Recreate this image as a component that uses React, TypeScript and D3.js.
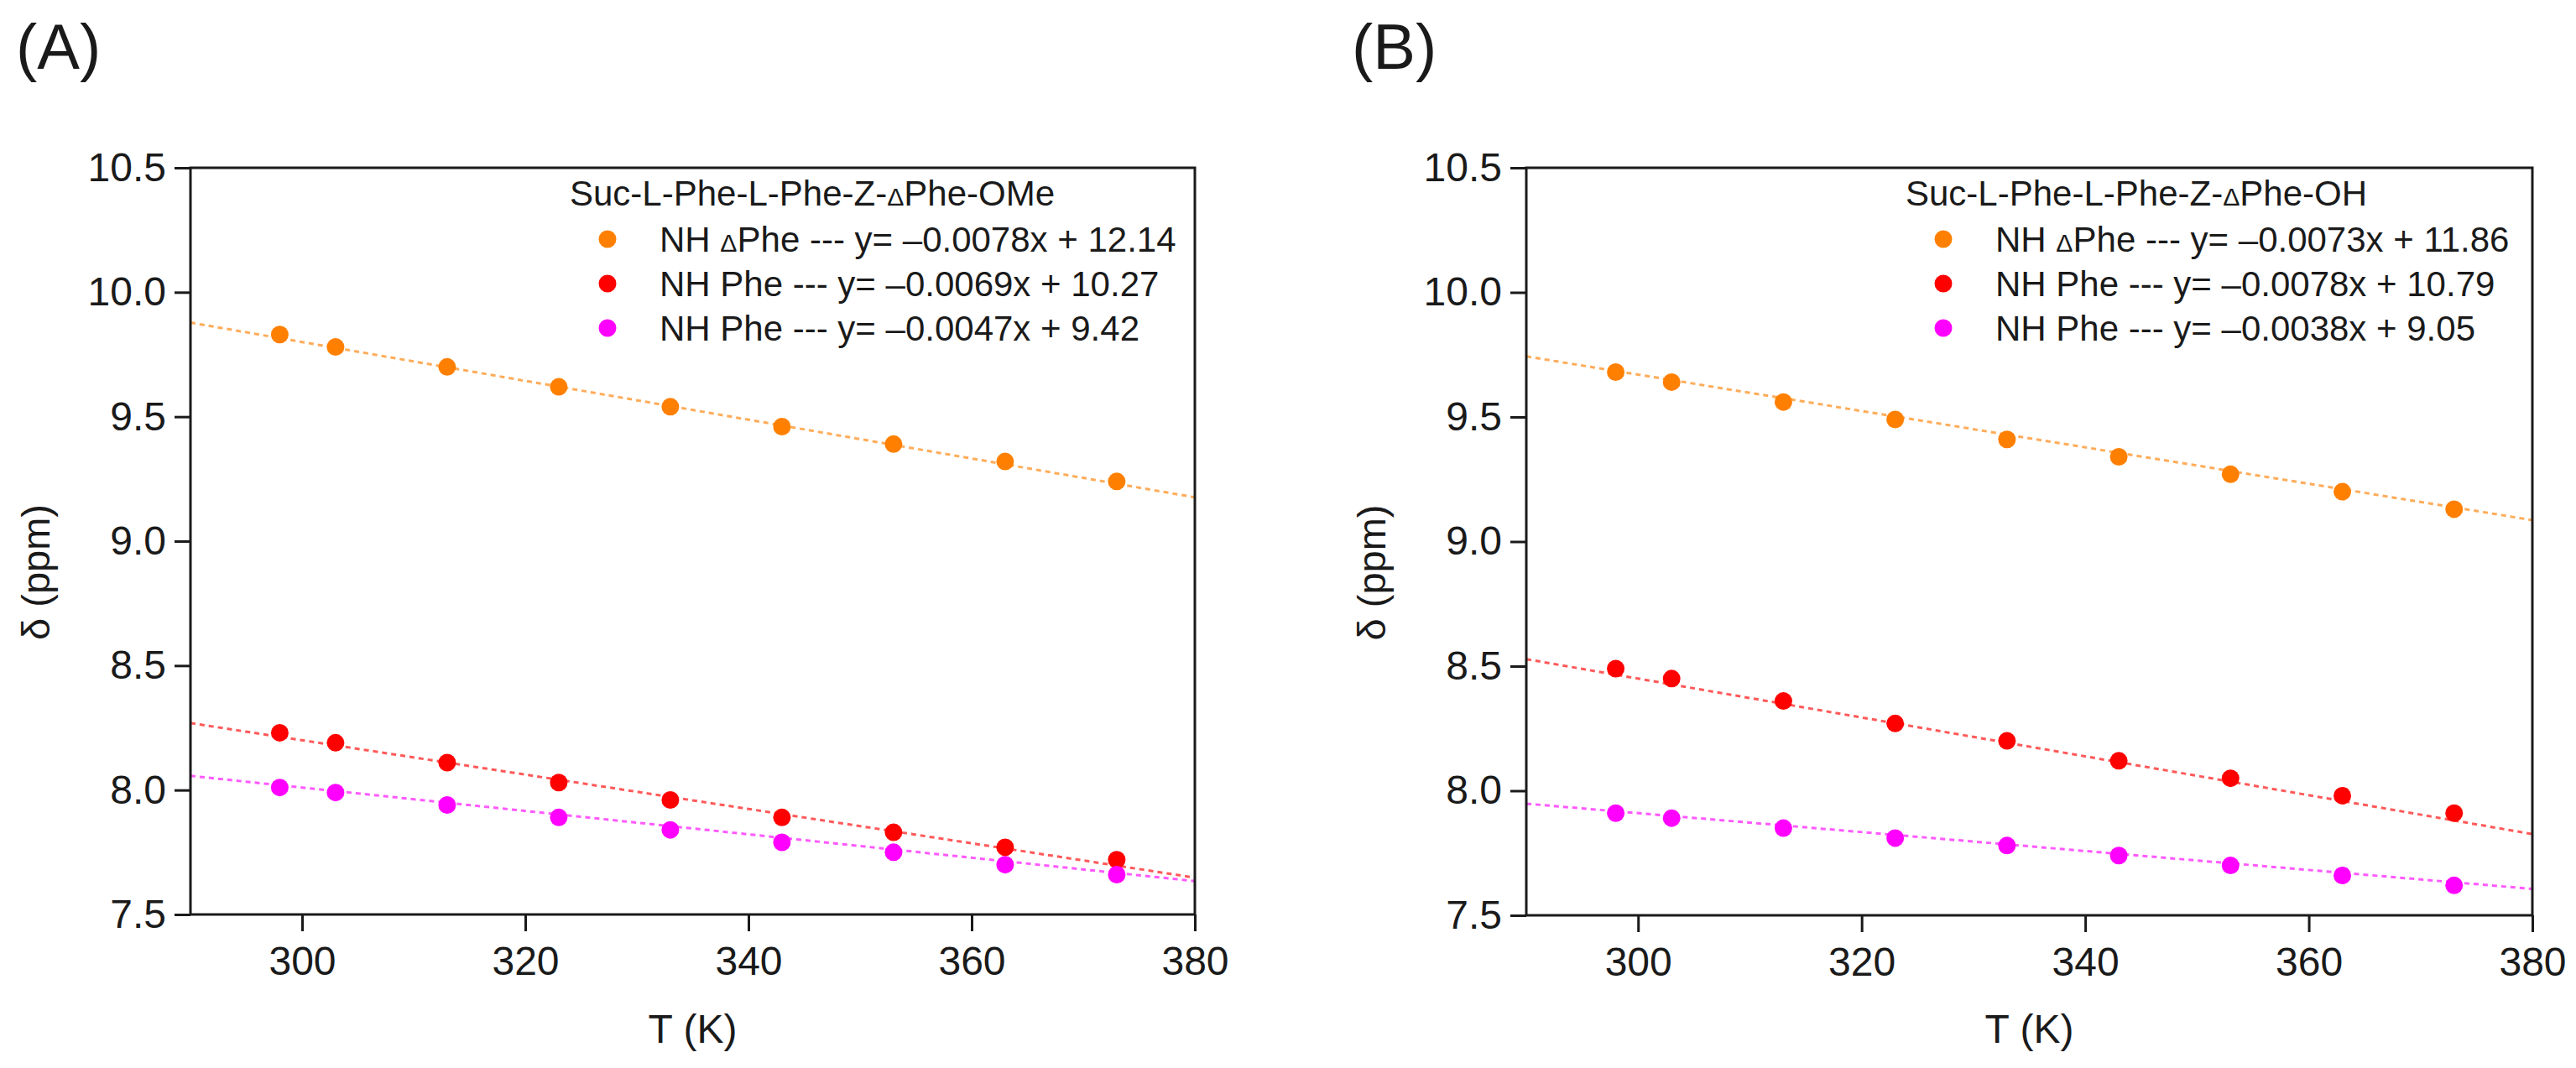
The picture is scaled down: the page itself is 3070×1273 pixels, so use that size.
import { useEffect, useRef } from 'react';
import * as d3 from 'd3';

// temperatures (K) measured in both panels
const temperatures = [298, 303, 313, 323, 333, 343, 353, 363, 373];

// (A) Suc-L-Phe-L-Phe-Z-ΔPhe-OMe
const omeDeltaPhe = [9.83, 9.78, 9.70, 9.62, 9.54, 9.46, 9.39, 9.32, 9.24];
const omePheA = [8.23, 8.19, 8.11, 8.03, 7.96, 7.89, 7.83, 7.77, 7.72];
const omePheB = [8.01, 7.99, 7.94, 7.89, 7.84, 7.79, 7.75, 7.70, 7.66];
const omeSlopes = [-0.0078, -0.0069, -0.0047];
const omeIntercepts = [12.14, 10.27, 9.42];

// (B) Suc-L-Phe-L-Phe-Z-ΔPhe-OH
const ohDeltaPhe = [9.68, 9.64, 9.56, 9.49, 9.41, 9.34, 9.27, 9.20, 9.13];
const ohPheA = [8.49, 8.45, 8.36, 8.27, 8.20, 8.12, 8.05, 7.98, 7.91];
const ohPheB = [7.91, 7.89, 7.85, 7.81, 7.78, 7.74, 7.70, 7.66, 7.62];
const ohSlopes = [-0.0073, -0.0078, -0.0038];
const ohIntercepts = [11.86, 10.79, 9.05];

const seriesNames = ['NH ΔPhe', 'NH Phe', 'NH Phe'];
const seriesColors = ['#ff8000', '#ff0000', '#ff00ff'];
const xDomain = [290, 380];
const yDomain = [7.5, 10.5];
const xTicks = [300, 320, 340, 360, 380];
const yTicks = [7.5, 8.0, 8.5, 9.0, 9.5, 10.0, 10.5];

const FONT = '"Liberation Sans", Arial, sans-serif';
const INK = '#1a1a1a';

interface PanelOpts {
    left: number;
    right: number;
    top: number;
    bottom: number;
    label: string;
    title: string;
    series: number[][];
    slopes: number[];
    intercepts: number[];
}

// writes text, shrinking every Δ a bit like the original figure
function addDeltaText(sel: d3.Selection<SVGTextElement, unknown, null, undefined>, str: string) {
    str.split(/(Δ)/).forEach(part => {
        if (!part) return;
        const t = sel.append('tspan').text(part);
        if (part === 'Δ') t.attr('font-size', '72%');
    });
}

function drawPanel(svg: d3.Selection<SVGSVGElement, unknown, null, undefined>, o: PanelOpts) {
    const x = d3.scaleLinear().domain(xDomain).range([o.left, o.right]);
    const y = d3.scaleLinear().domain(yDomain).range([o.bottom, o.top]);
    const g = svg.append('g');

    // panel letter
    g.append('text')
        .attr('x', o.left - 208)
        .attr('y', 82)
        .attr('font-size', 76)
        .attr('fill', INK)
        .text(o.label);

    // fit lines
    o.slopes.forEach((m, i) => {
        const b = o.intercepts[i];
        const line = d3.line<number>().x(d => x(d)).y(d => y(m * d + b));
        g.append('path')
            .attr('d', line(xDomain)!)
            .attr('fill', 'none')
            .attr('stroke', seriesColors[i])
            .attr('stroke-opacity', 0.65)
            .attr('stroke-width', 3)
            .attr('stroke-dasharray', '6,5');
    });

    // points
    o.series.forEach((vals, i) => {
        g.append('g')
            .selectAll('circle')
            .data(vals)
            .join('circle')
            .attr('cx', (_, j) => x(temperatures[j]))
            .attr('cy', d => y(d))
            .attr('r', 10.5)
            .attr('fill', seriesColors[i]);
    });

    // frame
    g.append('rect')
        .attr('x', o.left)
        .attr('y', o.top)
        .attr('width', o.right - o.left)
        .attr('height', o.bottom - o.top)
        .attr('fill', 'none')
        .attr('stroke', INK)
        .attr('stroke-width', 3);

    // axes
    const yAxis = g.append('g')
        .attr('transform', `translate(${o.left},0)`)
        .call(d3.axisLeft(y).tickValues(yTicks).tickFormat(d3.format('.1f')).tickSize(19).tickPadding(10));
    const xAxis = g.append('g')
        .attr('transform', `translate(0,${o.bottom})`)
        .call(d3.axisBottom(x).tickValues(xTicks).tickFormat(d3.format('d')).tickSize(20).tickPadding(18));

    [yAxis, xAxis].forEach(ax => {
        ax.select('.domain').remove();
        ax.selectAll('line').attr('stroke', INK).attr('stroke-width', 3);
        ax.selectAll('text')
            .attr('fill', INK)
            .attr('font-size', 48)
            .attr('font-family', FONT);
    });

    // axis titles
    g.append('text')
        .attr('x', (o.left + o.right) / 2)
        .attr('y', 1243)
        .attr('text-anchor', 'middle')
        .attr('font-size', 48)
        .attr('fill', INK)
        .text('T (K)');

    g.append('text')
        .attr('transform', `translate(${o.left - 168},${(o.top + o.bottom) / 2 + 37}) rotate(-90)`)
        .attr('text-anchor', 'middle')
        .attr('font-size', 47)
        .attr('fill', INK)
        .text('δ (ppm)');

    // legend
    const leg = g.append('g').attr('font-size', 42).attr('fill', INK);
    addDeltaText(leg.append('text').attr('x', o.left + 452).attr('y', 245), o.title);

    seriesNames.forEach((name, i) => {
        const cy = 285 + i * 53;
        leg.append('circle')
            .attr('cx', o.left + 497)
            .attr('cy', cy)
            .attr('r', 10.5)
            .attr('fill', seriesColors[i]);
        const label = `${name} --- y= –${Math.abs(o.slopes[i]).toFixed(4)}x + ${o.intercepts[i].toFixed(2)}`;
        addDeltaText(leg.append('text').attr('x', o.left + 559).attr('y', cy + 15), label);
    });
}

export default function App() {
    const svgRef = useRef<SVGSVGElement>(null);

    useEffect(() => {
        if (!svgRef.current) return;
        const svg = d3.select(svgRef.current);
        svg.selectAll('*').remove();

        drawPanel(svg, {
            left: 227, right: 1424, top: 200, bottom: 1090,
            label: '(A)',
            title: 'Suc-L-Phe-L-Phe-Z-ΔPhe-OMe',
            series: [omeDeltaPhe, omePheA, omePheB],
            slopes: omeSlopes,
            intercepts: omeIntercepts,
        });

        drawPanel(svg, {
            left: 1819, right: 3018, top: 200, bottom: 1091,
            label: '(B)',
            title: 'Suc-L-Phe-L-Phe-Z-ΔPhe-OH',
            series: [ohDeltaPhe, ohPheA, ohPheB],
            slopes: ohSlopes,
            intercepts: ohIntercepts,
        });
    }, []);

    return (
        <div style={{ position: 'absolute', left: 0, top: 0 }}>
            <svg
                ref={svgRef}
                width={3070}
                height={1273}
                style={{ display: 'block', background: '#fff', fontFamily: FONT }}
            />
        </div>
    );
}
